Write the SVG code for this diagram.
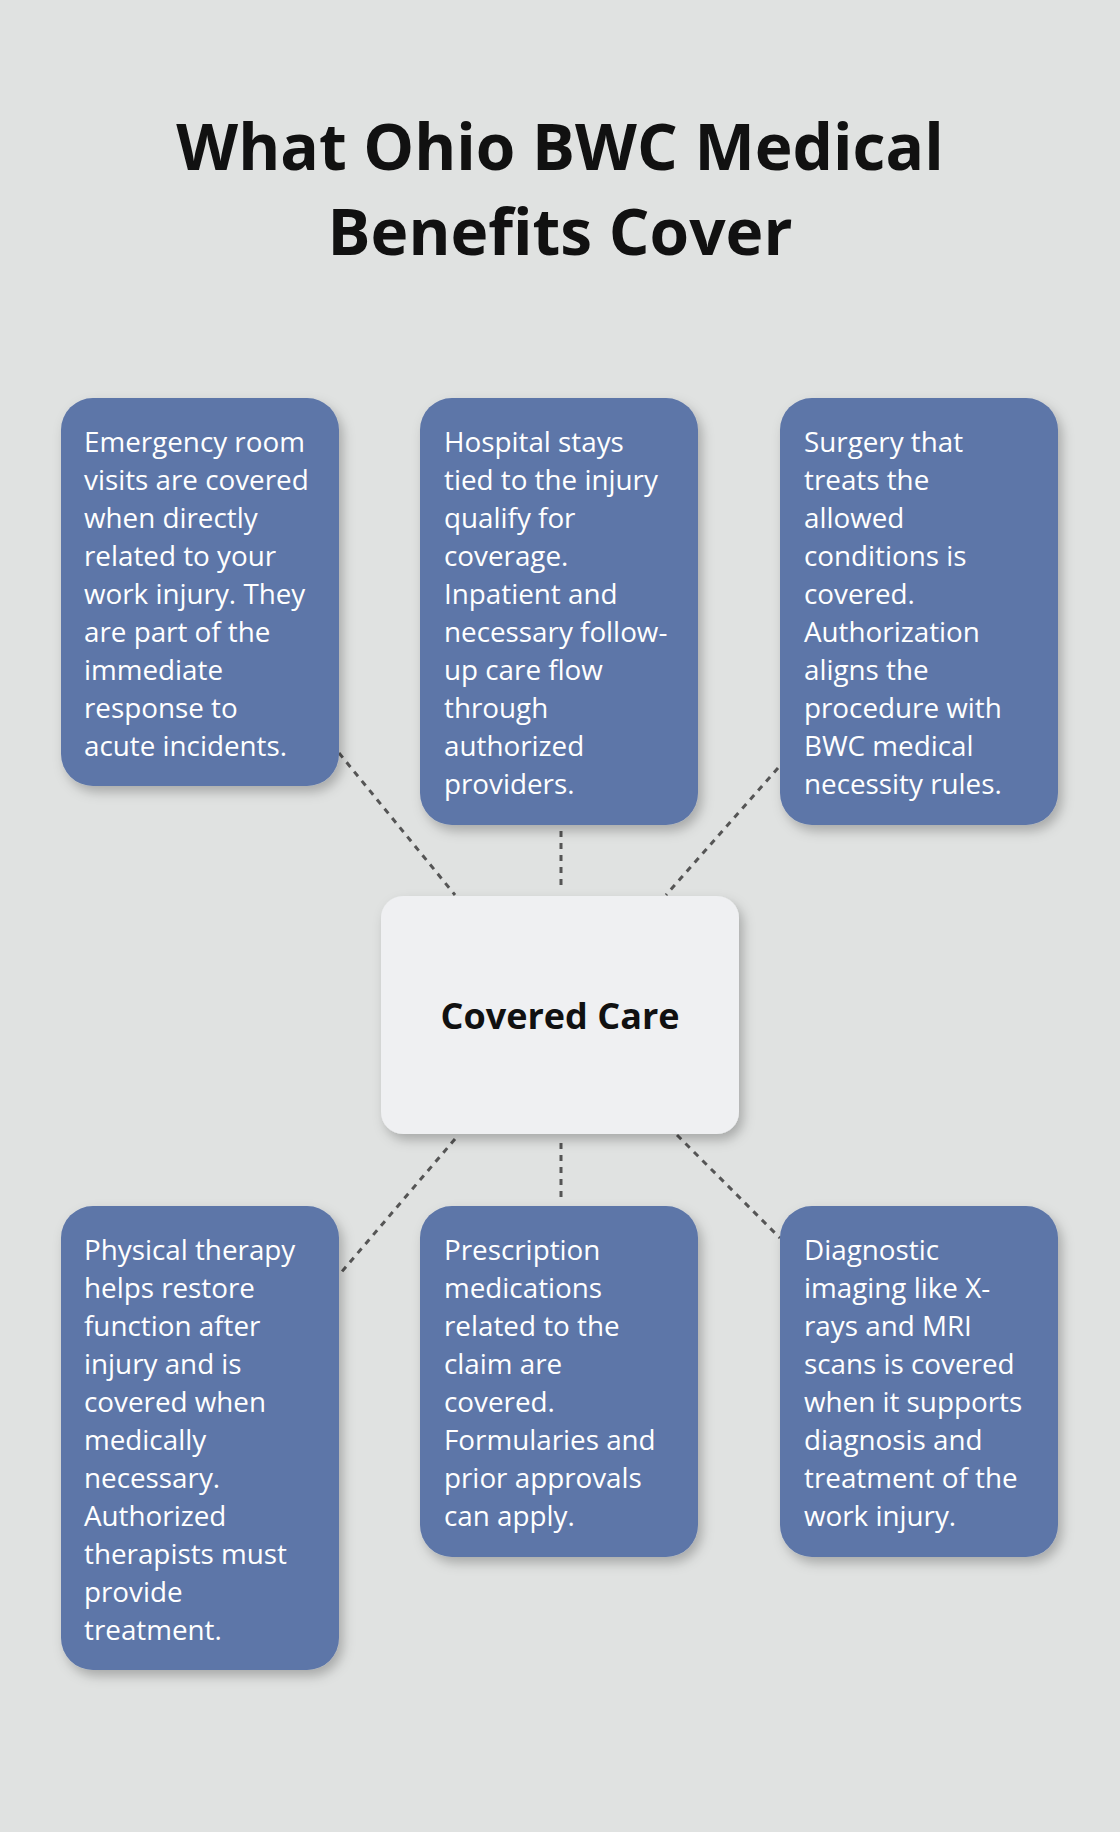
<svg xmlns="http://www.w3.org/2000/svg" width="1120" height="1832" viewBox="0 0 1120 1832">
<defs>
<filter id="sh" x="-20%" y="-20%" width="140%" height="140%"><feDropShadow dx="4" dy="6" stdDeviation="6" flood-color="#000" flood-opacity="0.25"/></filter>
<style>
.b{fill:#5d76a8;filter:url(#sh)}
.t{font-family:"Open Sans","Noto Sans",sans-serif;font-size:27.8px;fill:#fff}
.c{stroke:#555;stroke-width:3;stroke-dasharray:6 6;fill:none}
</style>
</defs>
<rect width="1120" height="1832" fill="#e0e2e1"/>
<g font-family="'Open Sans','Noto Sans',sans-serif" font-weight="bold" font-size="64" text-anchor="middle" fill="#111">
<text x="560" y="170">What Ohio BWC Medical</text>
<text x="560" y="255">Benefits Cover</text>
</g>
<g id="connectors">
<line class="c" x1="339" y1="753" x2="455" y2="895"/>
<line class="c" x1="561" y1="831" x2="561" y2="890"/>
<line class="c" x1="778" y1="768" x2="666" y2="895"/>
<line class="c" x1="455" y1="1139" x2="339" y2="1275"/>
<line class="c" x1="561" y1="1143" x2="561" y2="1203"/>
<line class="c" x1="677" y1="1135" x2="780" y2="1238"/>
</g>
<g id="center"><rect x="381" y="896" width="358" height="238" rx="22" fill="#eff0f2" filter="url(#sh)"/>
<text x="560" y="1029" text-anchor="middle" font-family="'Open Sans','Noto Sans',sans-serif" font-weight="bold" font-size="36" fill="#111">Covered Care</text></g>
<g id="er"><rect class="b" x="61" y="398" width="278" height="388" rx="32"/>
<text class="t" y="452"><tspan x="84">Emergency room</tspan><tspan x="84" dy="38">visits are covered</tspan><tspan x="84" dy="38">when directly</tspan><tspan x="84" dy="38">related to your</tspan><tspan x="84" dy="38">work injury. They</tspan><tspan x="84" dy="38">are part of the</tspan><tspan x="84" dy="38">immediate</tspan><tspan x="84" dy="38">response to</tspan><tspan x="84" dy="38">acute incidents.</tspan></text></g>
<g id="hospital"><rect class="b" x="420" y="398" width="278" height="427" rx="32"/>
<text class="t" y="452"><tspan x="444">Hospital stays</tspan><tspan x="444" dy="38">tied to the injury</tspan><tspan x="444" dy="38">qualify for</tspan><tspan x="444" dy="38">coverage.</tspan><tspan x="444" dy="38">Inpatient and</tspan><tspan x="444" dy="38">necessary follow-</tspan><tspan x="444" dy="38">up care flow</tspan><tspan x="444" dy="38">through</tspan><tspan x="444" dy="38">authorized</tspan><tspan x="444" dy="38">providers.</tspan></text></g>
<g id="surgery"><rect class="b" x="780" y="398" width="278" height="427" rx="32"/>
<text class="t" y="452"><tspan x="804">Surgery that</tspan><tspan x="804" dy="38">treats the</tspan><tspan x="804" dy="38">allowed</tspan><tspan x="804" dy="38">conditions is</tspan><tspan x="804" dy="38">covered.</tspan><tspan x="804" dy="38">Authorization</tspan><tspan x="804" dy="38">aligns the</tspan><tspan x="804" dy="38">procedure with</tspan><tspan x="804" dy="38">BWC medical</tspan><tspan x="804" dy="38">necessity rules.</tspan></text></g>
<g id="pt"><rect class="b" x="61" y="1206" width="278" height="464" rx="32"/>
<text class="t" y="1260"><tspan x="84">Physical therapy</tspan><tspan x="84" dy="38">helps restore</tspan><tspan x="84" dy="38">function after</tspan><tspan x="84" dy="38">injury and is</tspan><tspan x="84" dy="38">covered when</tspan><tspan x="84" dy="38">medically</tspan><tspan x="84" dy="38">necessary.</tspan><tspan x="84" dy="38">Authorized</tspan><tspan x="84" dy="38">therapists must</tspan><tspan x="84" dy="38">provide</tspan><tspan x="84" dy="38">treatment.</tspan></text></g>
<g id="rx"><rect class="b" x="420" y="1206" width="278" height="351" rx="32"/>
<text class="t" y="1260"><tspan x="444">Prescription</tspan><tspan x="444" dy="38">medications</tspan><tspan x="444" dy="38">related to the</tspan><tspan x="444" dy="38">claim are</tspan><tspan x="444" dy="38">covered.</tspan><tspan x="444" dy="38">Formularies and</tspan><tspan x="444" dy="38">prior approvals</tspan><tspan x="444" dy="38">can apply.</tspan></text></g>
<g id="imaging"><rect class="b" x="780" y="1206" width="278" height="351" rx="32"/>
<text class="t" y="1260"><tspan x="804">Diagnostic</tspan><tspan x="804" dy="38">imaging like X-</tspan><tspan x="804" dy="38">rays and MRI</tspan><tspan x="804" dy="38">scans is covered</tspan><tspan x="804" dy="38">when it supports</tspan><tspan x="804" dy="38">diagnosis and</tspan><tspan x="804" dy="38">treatment of the</tspan><tspan x="804" dy="38">work injury.</tspan></text></g>
</svg>
